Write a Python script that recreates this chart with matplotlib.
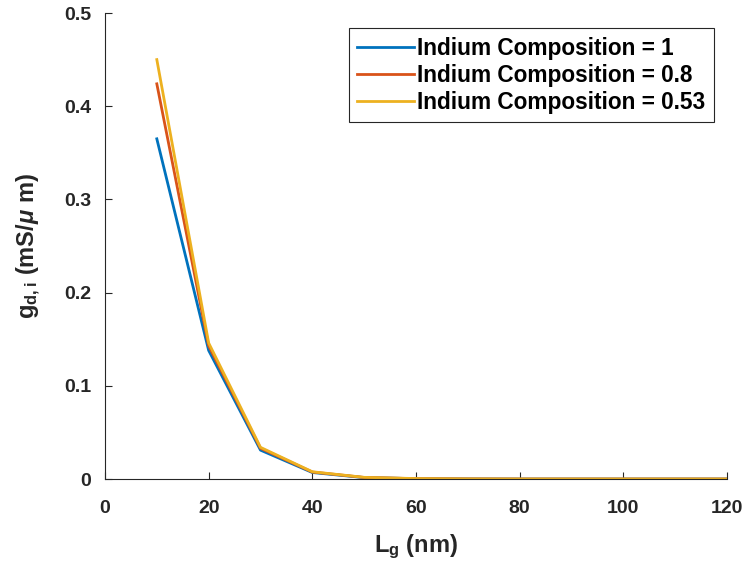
import matplotlib
matplotlib.use('Agg')
import matplotlib.pyplot as plt

plt.rcParams['font.family'] = ['Liberation Sans', 'DejaVu Sans']
plt.rcParams['font.weight'] = 'bold'
plt.rcParams['axes.labelweight'] = 'bold'
plt.rcParams['mathtext.fontset'] = 'custom'
plt.rcParams['mathtext.rm'] = 'Liberation Sans:bold'
plt.rcParams['mathtext.it'] = 'Liberation Sans:italic'
plt.rcParams['mathtext.bf'] = 'Liberation Sans:bold'

# gate length (nm)
Lg = [10, 20, 30, 40, 50, 60, 70, 80, 90, 100, 110, 120]
# output conductance g_d,i (mS/um)
gd_in1 = [0.365, 0.138, 0.031, 0.007, 0.0015, 0.0004, 0.0001, 0.0, 0.0, 0.0, 0.0, 0.0]
gd_in08 = [0.424, 0.143, 0.033, 0.0075, 0.0017, 0.0004, 0.0001, 0.0, 0.0, 0.0, 0.0, 0.0]
gd_in053 = [0.450, 0.146, 0.034, 0.0078, 0.0018, 0.0005, 0.0001, 0.0, 0.0, 0.0, 0.0, 0.0]
labels = ['Indium Composition = 1', 'Indium Composition = 0.8', 'Indium Composition = 0.53']
colors = ['#0072BD', '#D95319', '#EDB120']

fig = plt.figure(figsize=(7.52, 5.73), dpi=100)
ax = fig.add_axes([0.1396, 0.164, 0.8272, 0.8133])

for y, lab, c in zip([gd_in1, gd_in08, gd_in053], labels, colors):
    ax.plot(Lg, y, color=c, lw=2, label=lab)

ax.set_xlim(0, 120)
ax.set_ylim(0, 0.5)
ax.set_xticks([0, 20, 40, 60, 80, 100, 120])
ax.set_yticks([0, 0.1, 0.2, 0.3, 0.4, 0.5])
ax.set_yticklabels(['0', '0.1', '0.2', '0.3', '0.4', '0.5'])
ax.tick_params(labelsize=14, direction='in', length=5, color='#262626', labelcolor='#262626')
ax.tick_params(axis='x', pad=15)
ax.tick_params(axis='y', pad=10)
for s in ['top', 'right']:
    ax.spines[s].set_visible(False)
for s in ['left', 'bottom']:
    ax.spines[s].set_color('#262626')
    ax.spines[s].set_linewidth(0.8)

ax.set_xlabel('L$_\\mathregular{g}$ (nm)', fontsize=17, color='#262626', labelpad=11)
ax.set_ylabel('g$_\\mathregular{d,i}$ (mS/$\\mu$ m)', fontsize=17, color='#262626', labelpad=15)

leg = ax.legend(loc='upper right', bbox_to_anchor=(0.979, 0.968), fontsize=16.3, fancybox=False,
                framealpha=1, edgecolor='#262626', handlelength=2.5, handletextpad=0.15,
                borderpad=0.38, labelspacing=0.18, borderaxespad=0)
leg.get_frame().set_linewidth(0.8)

fig.savefig('out.png', dpi=100)
